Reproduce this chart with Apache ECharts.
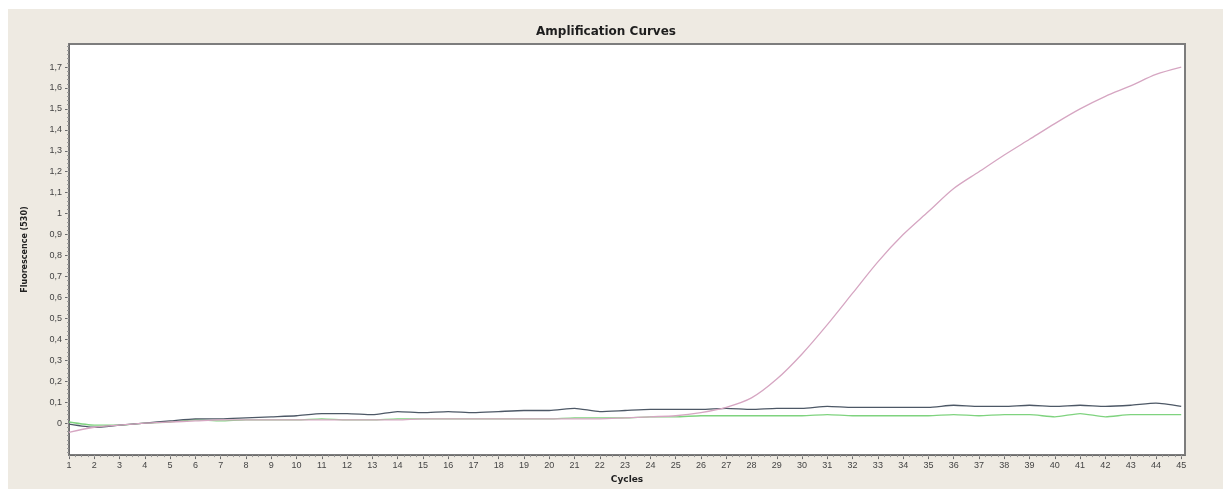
<!DOCTYPE html>
<html>
<head>
<meta charset="utf-8">
<script src="https://cdn.jsdelivr.net/npm/echarts@6/dist/echarts.min.js"></script>
<style>
  html, body { margin: 0; padding: 0; background: #ffffff; }
  #chart { position: absolute; left: 8px; top: 9px; width: 1215px; height: 480px; }
</style>
</head>
<body>
<div id="chart"></div>
<script>
// cycle numbers on the x axis
var cycles = [];
for (var c = 1; c <= 45; c++) cycles.push(c);

// y tick labels (shown with a decimal comma)
var yTicks = [0, 0.1, 0.2, 0.3, 0.4, 0.5, 0.6, 0.7, 0.8, 0.9, 1, 1.1, 1.2, 1.3, 1.4, 1.5, 1.6, 1.7];

// fluorescence per cycle
var darkCurve = [-0.005, -0.02, -0.01, 0.0, 0.01, 0.02, 0.02, 0.025, 0.03, 0.035,
  0.045, 0.045, 0.04, 0.055, 0.05, 0.055, 0.05, 0.055, 0.06, 0.06,
  0.07, 0.055, 0.06, 0.065, 0.065, 0.065, 0.07, 0.065, 0.07, 0.07,
  0.08, 0.075, 0.075, 0.075, 0.075, 0.085, 0.08, 0.08, 0.085, 0.08,
  0.085, 0.08, 0.085, 0.095, 0.08];

var greenCurve = [0.005, -0.01, -0.01, 0.0, 0.005, 0.015, 0.01, 0.015, 0.015, 0.015,
  0.02, 0.015, 0.015, 0.02, 0.02, 0.02, 0.02, 0.02, 0.02, 0.02,
  0.025, 0.025, 0.025, 0.03, 0.03, 0.035, 0.035, 0.035, 0.035, 0.035,
  0.04, 0.035, 0.035, 0.035, 0.035, 0.04, 0.035, 0.04, 0.04, 0.03,
  0.045, 0.03, 0.04, 0.04, 0.04];

var pinkCurve = [-0.045, -0.02, -0.01, 0.0, 0.005, 0.01, 0.015, 0.015, 0.015, 0.015,
  0.015, 0.015, 0.015, 0.015, 0.02, 0.02, 0.02, 0.02, 0.02, 0.02,
  0.02, 0.02, 0.025, 0.03, 0.035, 0.05, 0.075, 0.12, 0.21, 0.33,
  0.47, 0.62, 0.77, 0.90, 1.01, 1.12, 1.20, 1.28, 1.355, 1.43,
  1.50, 1.56, 1.61, 1.665, 1.70];

function pairs(vals) {
  return vals.map(function (v, i) { return [cycles[i], v]; });
}

// small ticks between labels
var yMinor = [];
for (var k = -7; k <= 90; k++) yMinor.push(k / 50);
var xMinor = [];
for (var m = 4; m <= 180; m++) xMinor.push(m / 4);

var axisGrey = '#6b6b6b';
var labelStyle = { color: '#444', fontSize: 9, fontFamily: 'Liberation Sans, DejaVu Sans, sans-serif' };

var chart = echarts.init(document.getElementById('chart'));
var option = {
  backgroundColor: '#eeeae2',
  animation: false,
  title: {
    text: 'Amplification Curves',
    left: 593,
    top: 12,
    textAlign: 'center',
    textStyle: { fontSize: 12, fontWeight: 'bold', color: '#1e1e1e', fontFamily: 'DejaVu Sans, sans-serif' }
  },
  grid: {
    left: 61,
    top: 35,
    right: 38,
    bottom: 33,
    show: true,
    backgroundColor: '#ffffff',
    borderColor: '#7d7d7d',
    borderWidth: 2
  },
  xAxis: [
    {
      type: 'value',
      min: 1,
      max: 45.15,
      name: 'Cycles',
      nameLocation: 'middle',
      nameGap: 14,
      nameTextStyle: { fontSize: 9, fontWeight: 'bold', color: '#222', fontFamily: 'DejaVu Sans, sans-serif' },
      axisLine: { show: true, onZero: false, lineStyle: { color: axisGrey, width: 1 } },
      axisTick: { show: true, customValues: cycles, length: 4, lineStyle: { color: axisGrey } },
      axisLabel: Object.assign({ customValues: cycles, margin: 6 }, labelStyle),
      splitLine: { show: false }
    },
    {
      type: 'value',
      min: 1,
      max: 45.15,
      position: 'bottom',
      axisLine: { show: false, onZero: false },
      axisTick: { show: true, customValues: xMinor, length: 2, lineStyle: { color: '#999' } },
      axisLabel: { show: false },
      splitLine: { show: false }
    }
  ],
  yAxis: [
    {
      type: 'value',
      min: -0.153,
      max: 1.81,
      name: 'Fluorescence (530)',
      nameLocation: 'middle',
      nameGap: 40,
      nameRotate: 90,
      nameTextStyle: { fontSize: 8, fontWeight: 'bold', color: '#222', fontFamily: 'DejaVu Sans, sans-serif' },
      axisLine: { show: true, onZero: false, lineStyle: { color: axisGrey, width: 1 } },
      axisTick: { show: true, customValues: yTicks, length: 4, lineStyle: { color: axisGrey } },
      axisLabel: Object.assign({
        customValues: yTicks,
        margin: 7,
        formatter: function (v) { return String(Math.round(v * 10) / 10).replace('.', ','); }
      }, labelStyle),
      splitLine: { show: false }
    },
    {
      type: 'value',
      min: -0.153,
      max: 1.81,
      position: 'left',
      axisLine: { show: false, onZero: false },
      axisTick: { show: true, customValues: yMinor, length: 2, lineStyle: { color: '#999' } },
      axisLabel: { show: false },
      splitLine: { show: false }
    }
  ],
  series: [
    {
      name: 'green',
      type: 'line',
      data: pairs(greenCurve),
      showSymbol: false,
      smooth: 0.2,
      lineStyle: { color: '#7fd37f', width: 1.3 },
      z: 3
    },
    {
      name: 'dark',
      type: 'line',
      data: pairs(darkCurve),
      showSymbol: false,
      smooth: 0.2,
      lineStyle: { color: '#4d5866', width: 1.3 },
      z: 4
    },
    {
      name: 'pink',
      type: 'line',
      data: pairs(pinkCurve),
      showSymbol: false,
      smooth: 0.3,
      lineStyle: { color: '#d6a6c2', width: 1.3 },
      z: 5
    }
  ]
};
chart.setOption(option);
</script>
</body>
</html>
